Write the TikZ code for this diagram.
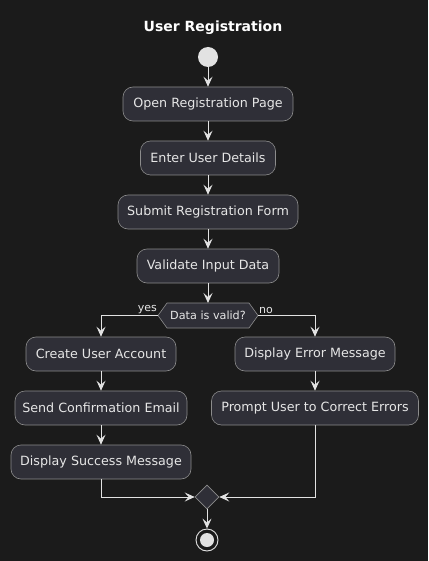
\documentclass[tikz,border=0pt]{standalone}
\usepackage{fontspec}
\setmainfont{DejaVu Sans}
\usetikzlibrary{arrows.meta,shapes.geometric}
\definecolor{bg}{HTML}{1B1B1B}
\definecolor{boxfill}{HTML}{2F2F37}
\definecolor{boxline}{HTML}{8C8C8C}
\definecolor{fg}{HTML}{E6E6E6}
\definecolor{ln}{HTML}{E2E2E2}
\begin{document}
\begin{tikzpicture}[x=1pt,y=-1pt,
  act/.style={draw=boxline,fill=boxfill,rounded corners=10pt,minimum height=34pt,text=fg,font=\fontsize{12.7}{14}\selectfont,inner sep=0pt,line width=0.6pt},
  flow/.style={draw=ln,line width=0.9pt,-{Stealth[length=10pt,width=9pt,inset=4pt]}},
  lbl/.style={text=fg,font=\fontsize{11}{13}\selectfont,inner sep=0pt}]
\fill[bg] (0,0) rectangle (428,561);
\useasboundingbox (0,0) rectangle (428,561);
\node[text=white,font=\bfseries\fontsize{14}{16}\selectfont] (title) at (213,28) {User Registration};
\node[circle,fill=ln,minimum size=20pt,inner sep=0pt] (start) at (208,57) {};
\node[act,minimum width=170pt] (open) at (208,104) {Open Registration Page};
\node[act,minimum width=135pt] (enter) at (208,158) {Enter User Details};
\node[act,minimum width=180pt] (submit) at (208,212) {Submit Registration Form};
\node[act,minimum width=142pt] (valid) at (208,266) {Validate Input Data};
% decision hexagon
\coordinate (decL) at (158,315.5);
\coordinate (decR) at (258,315.5);
\fill[boxfill,draw=boxline,line width=0.6pt] (decL) -- (167,303) -- (249,303) -- (decR) -- (249,328) -- (167,328) -- cycle;
\node[lbl,font=\fontsize{11.2}{13}\selectfont] (dec) at (208,315.5) {Data is valid?};
\node[act,minimum width=150pt] (create) at (101,354) {Create User Account};
\node[act,minimum width=172pt] (send) at (101,408) {Send Confirmation Email};
\node[act,minimum width=180pt] (success) at (101,462) {Display Success Message};
\node[act,minimum width=160pt] (error) at (315,354) {Display Error Message};
\node[act,minimum width=207pt] (prompt) at (315,408) {Prompt User to Correct Errors};
\node[diamond,fill=boxfill,draw=boxline,line width=0.6pt,minimum size=24pt,inner sep=0pt] (merge) at (207,497) {};
\node[circle,draw=ln,line width=0.9pt,minimum size=22pt,inner sep=0pt,fill=bg] (end) at (207,540) {};
\node[circle,fill=ln,minimum size=14pt,inner sep=0pt] (endin) at (end) {};
% flows
\draw[flow] (start) -- (open);
\draw[flow] (open) -- (enter);
\draw[flow] (enter) -- (submit);
\draw[flow] (submit) -- (valid);
\draw[flow] (valid.south) -- (208,303);
\draw[flow] (decL) -| (create.north);
\draw[flow] (decR) -| (error.north);
\draw[flow] (create) -- (send);
\draw[flow] (send) -- (success);
\draw[flow] (error) -- (prompt);
\draw[flow] (success.south) |- (merge.west);
\draw[flow] (prompt.south) |- (merge.east);
\draw[flow] (merge) -- (end);
\node[lbl,anchor=south east] (yes) at (157,314) {yes};
\node[lbl,anchor=south west] (no) at (259,314) {no};
\end{tikzpicture}
\end{document}
